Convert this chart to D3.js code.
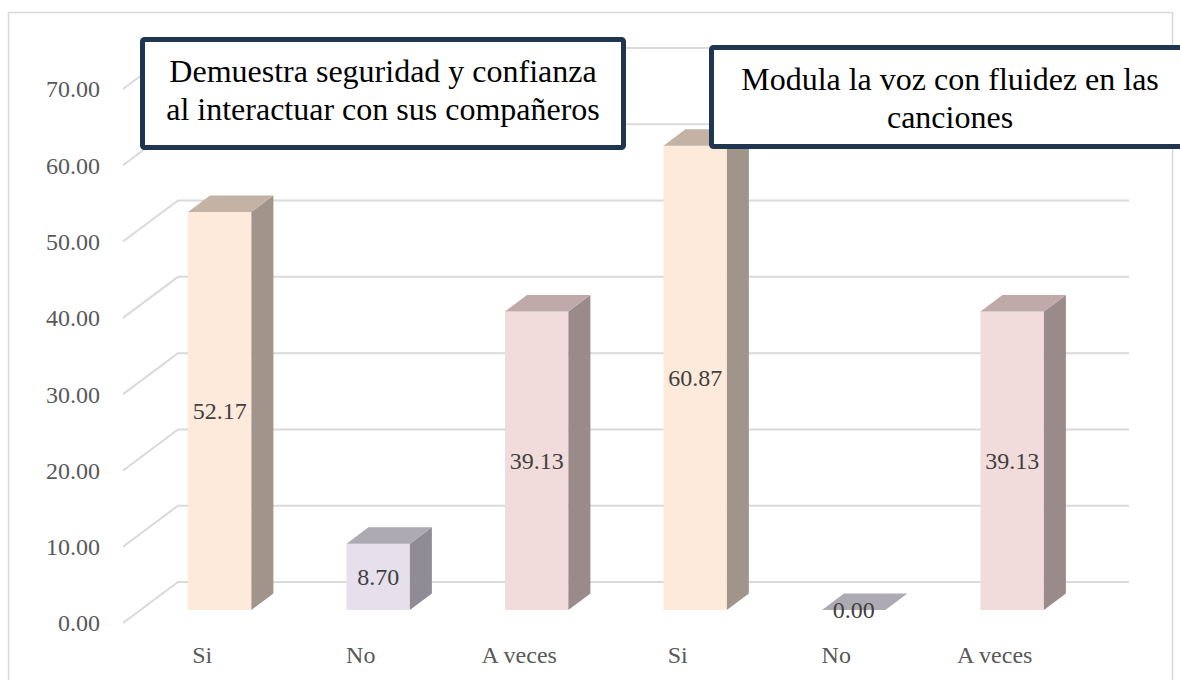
<!DOCTYPE html>
<html>
<head>
<meta charset="utf-8">
<script src="https://cdn.jsdelivr.net/npm/d3@7"></script>
<style>
  html, body { margin: 0; padding: 0; background: #fff; }
  svg { display: block; }
</style>
</head>
<body>
<div id="chart"></div>
<script>
// chart data
var categories = ["Si", "No", "A veces", "Si", "No", "A veces"];
var values = [52.17, 8.70, 39.13, 60.87, 0.00, 39.13];
var yTicks = [0, 10, 20, 30, 40, 50, 60, 70];
var boxLines = [
    ["Demuestra seguridad y confianza", "al interactuar con sus compañeros"],
    ["Modula la voz con fluidez en las", "canciones"]
];

// face colours for each answer: front, top, side
var faceColors = {
    "Si":      ["#fdeadb", "#c4b2a4", "#a1948a"],
    "No":      ["#e5e0ec", "#adaab3", "#8f8c96"],
    "A veces": ["#f2dcdb", "#c0aaa9", "#9a8b8a"]
};

var W = 1180, H = 680;

var svg = d3.select("#chart").append("svg")
    .attr("width", W)
    .attr("height", H);

// outer frame
svg.append("rect")
    .attr("x", 8.5).attr("y", 12.5)
    .attr("width", 1164).attr("height", 700)
    .attr("fill", "#fff")
    .attr("stroke", "#d9d9d9")
    .attr("stroke-width", 1.5);

// front plane scales, depth is added by proj()
var x = d3.scaleBand()
    .domain(d3.range(categories.length))
    .range([123, 1074]);

var y = d3.scaleLinear()
    .domain([0, 70])
    .range([623, 89]);

var depthX = 55, depthY = -41;

function proj(px, py, z) {
    return [px + z * depthX, py + z * depthY];
}

var g = svg.append("g");

// side wall gridlines (diagonals) + back wall gridlines
yTicks.forEach(function(t) {
    var f = proj(x.range()[0], y(t), 0);
    var b = proj(x.range()[0], y(t), 1);
    var e = proj(x.range()[1], y(t), 1);
    g.append("path")
        .attr("d", "M" + f + "L" + b + "L" + e)
        .attr("fill", "none")
        .attr("stroke", "#dadada")
        .attr("stroke-width", 2);
});

// y axis labels
g.selectAll(".ylab")
    .data(yTicks)
    .enter()
    .append("text")
    .attr("class", "ylab")
    .attr("x", 100)
    .attr("y", function(d) { return y(d); })
    .attr("dy", "0.35em")
    .attr("text-anchor", "end")
    .attr("font-family", "'Liberation Serif', serif")
    .attr("font-size", 24)
    .attr("fill", "#595959")
    .text(function(d) { return d.toFixed(2); });

// category labels on the front edge
g.selectAll(".xlab")
    .data(categories)
    .enter()
    .append("text")
    .attr("class", "xlab")
    .attr("x", function(d, i) { return x(i) + x.bandwidth() / 2; })
    .attr("y", 655)
    .attr("dy", "0.35em")
    .attr("text-anchor", "middle")
    .attr("font-family", "'Liberation Serif', serif")
    .attr("font-size", 24)
    .attr("fill", "#595959")
    .text(function(d) { return d; });

// 3d bars
var z0 = 0.317, z1 = 0.717;
var barL = 0.3, barR = 0.7;

function poly(pts) {
    return "M" + pts.map(function(p) { return p.join(","); }).join("L") + "Z";
}

values.forEach(function(v, i) {
    var cols = faceColors[categories[i]];
    var xl = x(i) + x.bandwidth() * barL;
    var xr = x(i) + x.bandwidth() * barR;
    var yb = y(0), yt = y(v);

    var bar = g.append("g");

    if (v > 0) {
        // front
        bar.append("path")
            .attr("d", poly([proj(xl, yb, z0), proj(xr, yb, z0), proj(xr, yt, z0), proj(xl, yt, z0)]))
            .attr("fill", cols[0]);
        // side
        bar.append("path")
            .attr("d", poly([proj(xr, yb, z0), proj(xr, yb, z1), proj(xr, yt, z1), proj(xr, yt, z0)]))
            .attr("fill", cols[2]);
    }
    // top
    bar.append("path")
        .attr("d", poly([proj(xl, yt, z0), proj(xr, yt, z0), proj(xr, yt, z1), proj(xl, yt, z1)]))
        .attr("fill", cols[1]);

    // value label in the middle of the front face
    var c = proj((xl + xr) / 2, (yb + yt) / 2, z0);
    bar.append("text")
        .attr("x", c[0])
        .attr("y", c[1])
        .attr("dy", "0.35em")
        .attr("text-anchor", "middle")
        .attr("font-family", "'Liberation Serif', serif")
        .attr("font-size", 24)
        .attr("fill", "#404040")
        .text(v.toFixed(2));
});

// title boxes
var boxes = [
    {x: 142.5, y: 39.5, w: 481, h: 108, cx: 383, base: 82},
    {x: 711.5, y: 47.5, w: 490, h: 99, cx: 950, base: 90}
];

boxes.forEach(function(b, i) {
    svg.append("rect")
        .attr("x", b.x).attr("y", b.y)
        .attr("width", b.w).attr("height", b.h)
        .attr("rx", 2)
        .attr("fill", "#fff")
        .attr("stroke", "#1f3550")
        .attr("stroke-width", 5);

    svg.append("text")
        .attr("text-anchor", "middle")
        .attr("font-family", "'Liberation Serif', 'Times New Roman', serif")
        .attr("font-size", 32)
        .attr("fill", "#000")
        .selectAll("tspan")
        .data(boxLines[i])
        .enter()
        .append("tspan")
        .attr("x", b.cx)
        .attr("y", function(d, j) { return b.base + j * 38; })
        .text(function(d) { return d; });
});
</script>
</body>
</html>
